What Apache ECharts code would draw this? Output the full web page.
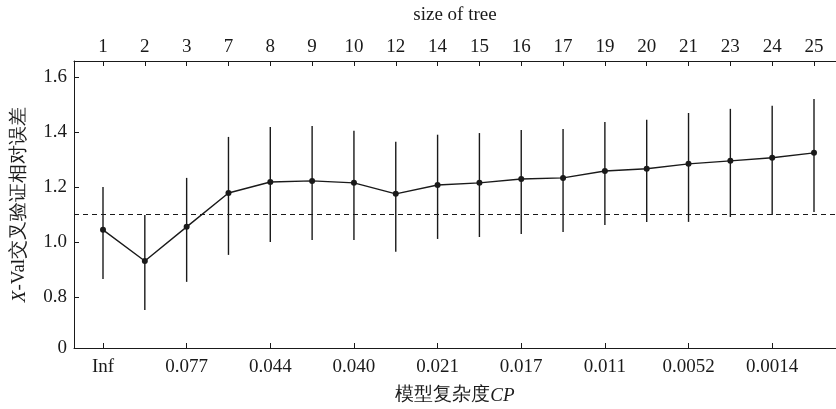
<!DOCTYPE html>
<html>
<head>
<meta charset="utf-8">
<script src="https://cdn.jsdelivr.net/npm/echarts@6/dist/echarts.min.js"></script>
<style>
  html, body { margin: 0; padding: 0; background: #fff; }
  #chart { width: 836px; height: 409px; }
</style>
</head>
<body>
<div id="chart"></div>
<script>
// tree sizes (top axis) and CP labels (bottom axis, every other point)
const treeSizes = [1, 2, 3, 7, 8, 9, 10, 12, 14, 15, 16, 17, 19, 20, 21, 23, 24, 25]
const cpLabels = ['Inf', '0.077', '0.044', '0.040', '0.021', '0.017', '0.011', '0.0052', '0.0014']
// x-val relative error, mean and +/- 1 SE bounds
const xerror = [1.044, 0.931, 1.055, 1.178, 1.218, 1.222, 1.215, 1.175, 1.207, 1.215, 1.229, 1.233, 1.258, 1.266, 1.284, 1.295, 1.306, 1.324]
const xlow = [0.865, 0.753, 0.855, 0.953, 1.0, 1.007, 1.007, 0.964, 1.011, 1.018, 1.029, 1.036, 1.062, 1.073, 1.073, 1.091, 1.098, 1.109]
const xhigh = [1.2, 1.098, 1.233, 1.382, 1.418, 1.422, 1.404, 1.364, 1.39, 1.396, 1.407, 1.411, 1.436, 1.444, 1.469, 1.484, 1.495, 1.52]
const refLine = 1.1
const yTicks = [0.6145, 0.8, 1.0, 1.2, 1.4, 1.6]

const chart = echarts.init(document.getElementById('chart'))
const ink = '#1a1a1a'
const font = 'Liberation Serif'
const idx = treeSizes.map((s, i) => i + 1)

const lineData = idx.map((x, i) => [x, xerror[i]])
const barData = idx.map((x, i) => [x, xlow[i], xhigh[i]])

const baseAxis = {
  type: 'value',
  min: 0.3066,
  max: 18.526,
  axisLine: { show: true, onZero: false, lineStyle: { color: ink, width: 1 } },
  axisTick: { show: true, inside: true, length: 5, lineStyle: { color: ink } },
  splitLine: { show: false }
}

const option = {
  animation: false,
  backgroundColor: '#fff',
  grid: { left: 74, right: 0, top: 61, bottom: 61, containLabel: false, outerBoundsMode: 'none' },
  xAxis: [
    Object.assign({}, baseAxis, {
      position: 'bottom',
      name: '模型复杂度{i|CP}',
      nameLocation: 'middle',
      nameGap: 38,
      nameTextStyle: {
        fontFamily: font, fontSize: 19, color: ink,
        rich: { i: { fontFamily: font, fontStyle: 'italic', fontSize: 19, color: ink } }
      },
      axisTick: Object.assign({}, baseAxis.axisTick, { customValues: cpLabels.map((l, k) => 2 * k + 1) }),
      axisLabel: {
        customValues: cpLabels.map((l, k) => 2 * k + 1),
        formatter: v => cpLabels[Math.round((v - 1) / 2)],
        fontFamily: font, fontSize: 19, color: ink, margin: 10
      }
    }),
    Object.assign({}, baseAxis, {
      position: 'top',
      name: 'size of tree',
      nameLocation: 'middle',
      nameGap: 36,
      nameTextStyle: { fontFamily: font, fontSize: 19, color: ink },
      axisTick: Object.assign({}, baseAxis.axisTick, { customValues: idx }),
      axisLabel: {
        customValues: idx,
        formatter: v => String(treeSizes[Math.round(v) - 1]),
        fontFamily: font, fontSize: 19, color: ink, margin: 4
      }
    })
  ],
  yAxis: {
    type: 'value',
    min: 0.6145,
    max: 1.658,
    name: '{i|X}-Val交叉验证相对误差',
    nameLocation: 'middle',
    nameGap: 45,
    nameRotate: 90,
    nameTextStyle: {
      fontFamily: font, fontSize: 19, color: ink,
      rich: { i: { fontFamily: font, fontStyle: 'italic', fontSize: 19, color: ink } }
    },
    axisLine: { show: true, lineStyle: { color: ink, width: 1 } },
    axisTick: { show: true, inside: true, length: 5, customValues: yTicks, lineStyle: { color: ink } },
    axisLabel: {
      customValues: yTicks,
      formatter: v => (v < 0.7 ? '0' : v.toFixed(1)),
      fontFamily: font, fontSize: 19, color: ink, margin: 7
    },
    splitLine: { show: false }
  },
  series: [
    {
      // +/- 1 SE error bars
      type: 'custom',
      xAxisIndex: 0,
      data: barData,
      renderItem: function (params, api) {
        const p0 = api.coord([api.value(0), api.value(1)])
        const p1 = api.coord([api.value(0), api.value(2)])
        return {
          type: 'line',
          shape: { x1: p0[0], y1: p0[1], x2: p1[0], y2: p1[1] },
          style: { stroke: ink, lineWidth: 1.4 }
        }
      },
      z: 2
    },
    {
      type: 'line',
      xAxisIndex: 0,
      data: lineData,
      symbol: 'circle',
      symbolSize: 6,
      itemStyle: { color: ink },
      lineStyle: { color: ink, width: 1.4 },
      markLine: {
        silent: true,
        symbol: 'none',
        label: { show: false },
        lineStyle: { color: ink, type: [5, 4], width: 1.2 },
        data: [{ yAxis: refLine }]
      },
      z: 3
    }
  ]
}

chart.setOption(option)
</script>
</body>
</html>
